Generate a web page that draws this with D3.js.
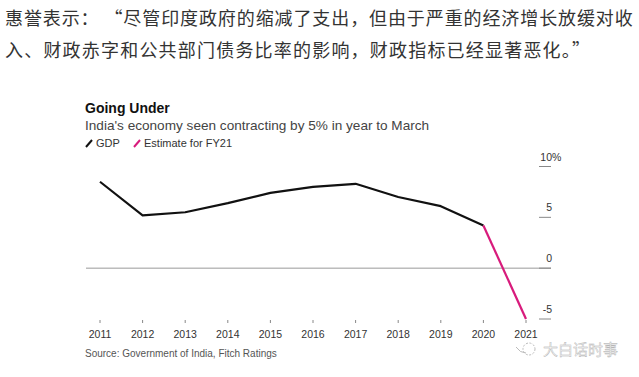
<!DOCTYPE html>
<html>
<head>
<meta charset="utf-8">
<script src="https://cdn.jsdelivr.net/npm/d3@7"></script>
<style>
  body { margin: 0; background: #fff; }
  svg { display: block; }
</style>
</head>
<body>
<div id="chart"></div>
<script>
// Data
const years = [2011, 2012, 2013, 2014, 2015, 2016, 2017, 2018, 2019, 2020, 2021];
const gdp = [8.5, 5.2, 5.5, 6.4, 7.4, 8.0, 8.3, 7.0, 6.1, 4.2];   // FY11..FY20
const estimateYears = [2020, 2021];
const estimate = [4.2, -5.0];
const yTicks = [10, 5, 0, -5];
const introLines = [
    "惠誉表示： “尽管印度政府的缩减了支出，但由于严重的经济增长放缓对收",
    "入、财政赤字和公共部门债务比率的影响，财政指标已经显著恶化。”"
];

const width = 639;
const height = 377;
const font = "Helvetica, Arial, 'Liberation Sans', sans-serif";

const svg = d3.select("#chart")
    .append("svg")
    .attr("width", width)
    .attr("height", height);

// Article text above the chart
svg.selectAll(".intro")
    .data(introLines)
    .enter().append("text")
    .attr("class", "intro")
    .attr("x", 5)
    .attr("y", (d, i) => 25 + i * 32)
    .style("font-family", "'Noto Sans CJK SC', sans-serif")
    .style("font-size", "18px")
    .style("letter-spacing", (d, i) => i === 0 ? "0.9px" : "1.2px")
    .style("fill", "#333")
    .text(d => d);

// Scales
const x = d3.scaleLinear()
    .domain([2011, 2021])
    .range([100, 526]);

const y = d3.scaleLinear()
    .domain([-5, 10])
    .range([319, 166.5]);

// Title block
svg.append("text")
    .attr("x", 85)
    .attr("y", 113)
    .style("font-family", font)
    .style("font-size", "14px")
    .style("font-weight", "bold")
    .style("fill", "#111")
    .text("Going Under");

svg.append("text")
    .attr("x", 85)
    .attr("y", 130)
    .style("font-family", font)
    .style("font-size", "13.6px")
    .style("fill", "#444")
    .text("India's economy seen contracting by 5% in year to March");

// Legend
const legendData = [
    {label: "GDP", color: "#111", x: 85},
    {label: "Estimate for FY21", color: "#d81b7c", x: 133}
];

const legend = svg.selectAll(".legend")
    .data(legendData)
    .enter().append("g")
    .attr("class", "legend")
    .attr("transform", d => `translate(${d.x},147)`);

legend.append("line")
    .attr("x1", 1).attr("y1", 0)
    .attr("x2", 7).attr("y2", -7)
    .attr("stroke", d => d.color)
    .attr("stroke-width", 2);

legend.append("text")
    .attr("x", 11)
    .attr("y", 0)
    .style("font-family", font)
    .style("font-size", "11px")
    .style("fill", "#333")
    .text(d => d.label);

// Zero line
svg.append("line")
    .attr("x1", 86)
    .attr("x2", 551)
    .attr("y1", y(0))
    .attr("y2", y(0))
    .attr("stroke", "#999")
    .attr("stroke-width", 1);

// Y axis on the right: short dash with the label above it
const yAxis = svg.append("g");

yAxis.selectAll("line")
    .data(yTicks)
    .enter().append("line")
    .attr("x1", 539)
    .attr("x2", 551)
    .attr("y1", d => y(d))
    .attr("y2", d => y(d))
    .attr("stroke", "#888")
    .attr("stroke-width", 1);

yAxis.selectAll("text")
    .data(yTicks)
    .enter().append("text")
    .attr("x", 552)
    .attr("y", d => y(d) - 6)
    .attr("text-anchor", "end")
    .style("font-family", font)
    .style("font-size", "10.5px")
    .style("fill", "#333")
    .text(d => d);

// the "%" sits past the right edge of the top label
yAxis.append("text")
    .attr("x", 552)
    .attr("y", y(10) - 6)
    .style("font-family", font)
    .style("font-size", "10.5px")
    .style("fill", "#333")
    .text("%");

// X axis
const xAxis = svg.append("g");

xAxis.selectAll("line")
    .data(years)
    .enter().append("line")
    .attr("x1", d => x(d))
    .attr("x2", d => x(d))
    .attr("y1", 320)
    .attr("y2", 323)
    .attr("stroke", "#888");

xAxis.selectAll("text")
    .data(years)
    .enter().append("text")
    .attr("x", d => x(d))
    .attr("y", 338)
    .attr("text-anchor", "middle")
    .style("font-family", font)
    .style("font-size", "10.5px")
    .style("fill", "#333")
    .text(d => d);

// Lines
const line = d3.line()
    .x(d => x(d[0]))
    .y(d => y(d[1]));

svg.append("path")
    .datum(d3.zip(years.slice(0, gdp.length), gdp))
    .attr("d", line)
    .attr("fill", "none")
    .attr("stroke", "#111")
    .attr("stroke-width", 2.2)
    .attr("stroke-linejoin", "round");

svg.append("path")
    .datum(d3.zip(estimateYears, estimate))
    .attr("d", line)
    .attr("fill", "none")
    .attr("stroke", "#d81b7c")
    .attr("stroke-width", 2.2);

// Source
svg.append("text")
    .attr("x", 85)
    .attr("y", 357)
    .style("font-family", font)
    .style("font-size", "10px")
    .style("fill", "#555")
    .text("Source: Government of India, Fitch Ratings");

// Watermark
const wm = svg.append("g")
    .attr("transform", "translate(526,349)");

wm.append("circle")
    .attr("cx", 3).attr("cy", 0).attr("r", 6)
    .attr("fill", "none")
    .attr("stroke", "#bbb")
    .attr("stroke-dasharray", "2,1.5");

wm.append("path")
    .attr("d", "M-10,-2 Q-6,4 0,4")
    .attr("fill", "none")
    .attr("stroke", "#bbb");

wm.append("text")
    .attr("x", 17)
    .attr("y", 6)
    .style("font-family", "'Noto Sans CJK SC', sans-serif")
    .style("font-size", "15px")
    .style("fill", "#f4f4f4")
    .style("stroke", "#aaa")
    .style("stroke-width", 0.35)
    .text("大白话时事");
</script>
</body>
</html>
